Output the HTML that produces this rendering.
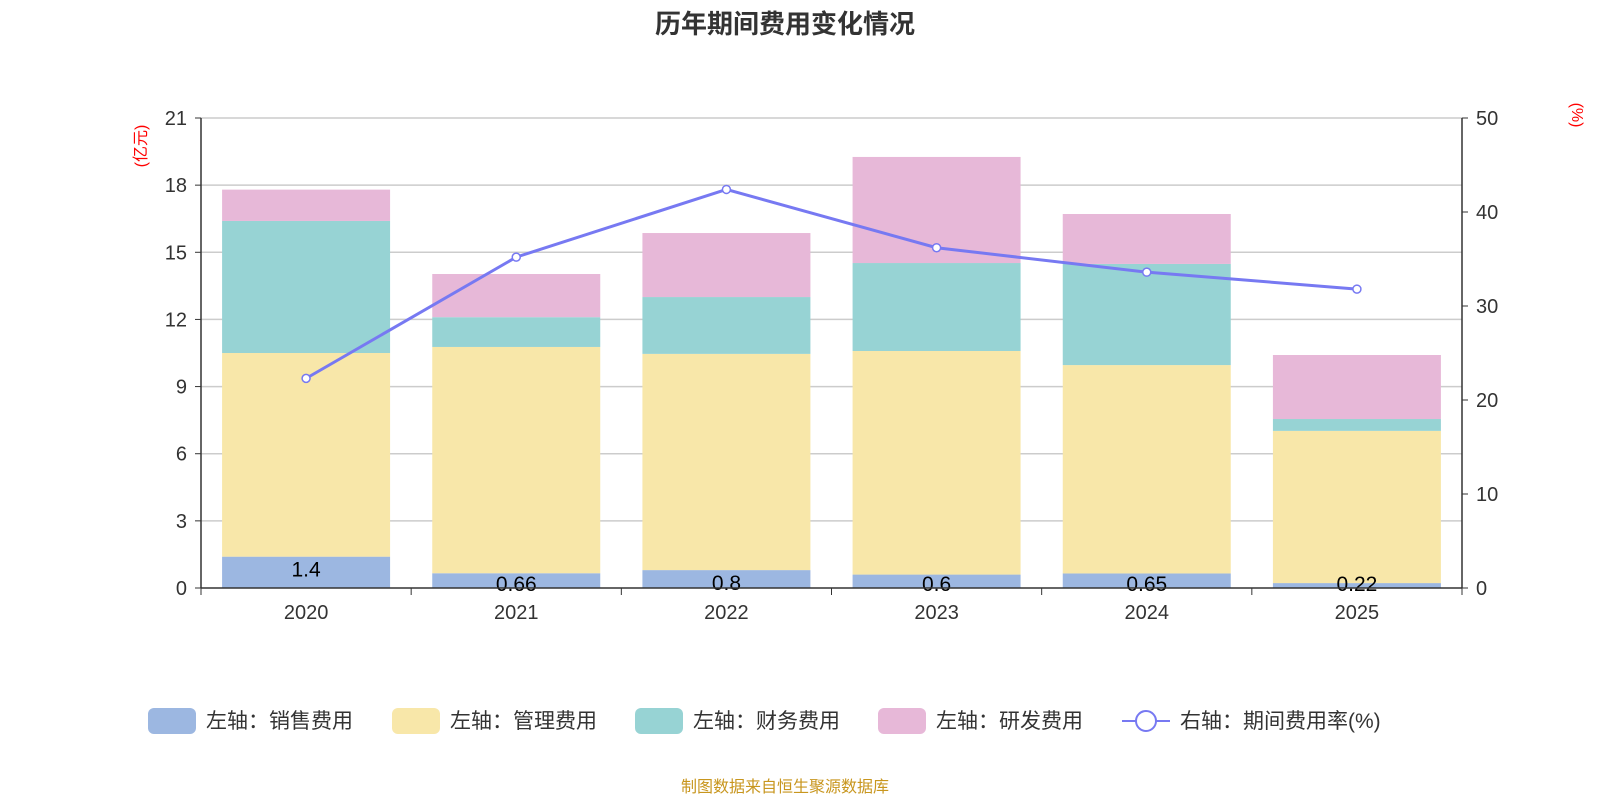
<!DOCTYPE html>
<html><head><meta charset="utf-8"><style>
body{margin:0;background:#fff;}
svg{display:block;font-family:"Liberation Sans","Noto Sans CJK SC",sans-serif;}
</style></head><body>
<svg id="c" width="1600" height="800" xmlns="http://www.w3.org/2000/svg">
<text x="785" y="33" text-anchor="middle" font-size="26" font-weight="bold" fill="#333">历年期间费用变化情况</text>
<text transform="translate(146,146) rotate(-90)" text-anchor="middle" font-size="16" fill="#f00">(亿元)</text>
<text transform="translate(1572,115) rotate(90)" text-anchor="middle" font-size="16" fill="#f00">(%)</text>
<g id="grid"></g><g id="bars"></g><g id="axes"></g><g id="line"></g>
<g id="legend" font-size="21" fill="#333"></g>
<text x="785" y="792" text-anchor="middle" font-size="16" fill="#c8961e">制图数据来自恒生聚源数据库</text>
</svg>
<script>
const categories=["2020","2021","2022","2023","2024","2025"];
const sales=[1.4,0.66,0.8,0.6,0.65,0.22];
const mgmt=[9.1,10.11,9.66,9.99,9.31,6.8];
const fin=[5.9,1.33,2.54,3.93,4.52,0.53];
const rd=[1.4,1.93,2.86,4.74,2.23,2.86];
const rate=[22.3,35.2,42.4,36.2,33.6,31.8];
const leftTicks=[0,3,6,9,12,15,18,21];
const rightTicks=[0,10,20,30,40,50];
const NS="http://www.w3.org/2000/svg";
const X0=201,X1=1462,Y0=588,Y1=118;
const yL=v=>Y0-(v/21)*(Y0-Y1);
const yR=v=>Y0-(v/50)*(Y0-Y1);
const bw=(X1-X0)/categories.length;
const xc=i=>X0+bw*(i+0.5);
function mk(p,t,a){const e=document.createElementNS(NS,t);for(const k in a)e.setAttribute(k,a[k]);document.getElementById(p).appendChild(e);return e;}
leftTicks.forEach(v=>{
 if(v>0){const g=mk('grid','line',{x1:X0,x2:X1,y1:yL(v),y2:yL(v),stroke:'#ccc','stroke-width':1.5});
 
 }
 const t=mk('axes','text',{x:X0-14,y:yL(v)+7,'text-anchor':'end','font-size':20,fill:'#333'});t.textContent=v;
 
 
 mk('axes','line',{x1:X0-6,x2:X0,y1:yL(v),y2:yL(v),stroke:'#333'});
});
rightTicks.forEach(v=>{
 const t=mk('axes','text',{x:X1+14,y:yR(v)+7,'font-size':20,fill:'#333'});t.textContent=v;
 
 
 mk('axes','line',{x1:X1,x2:X1+6,y1:yR(v),y2:yR(v),stroke:'#333'});
});
mk('axes','line',{x1:X0,x2:X0,y1:Y1,y2:Y0,stroke:'#333','stroke-width':1.5});
mk('axes','line',{x1:X1,x2:X1,y1:Y1,y2:Y0,stroke:'#333','stroke-width':1.5});
mk('axes','line',{x1:X0,x2:X1,y1:Y0,y2:Y0,stroke:'#333','stroke-width':1.5});
for(let i=0;i<=categories.length;i++)mk('axes','line',{x1:X0+bw*i,x2:X0+bw*i,y1:Y0,y2:Y0+7,stroke:'#333'});
const series=[[sales,'#9cb7e1','sales'],[mgmt,'#f8e7a9','mgmt'],[fin,'#97d3d4','finance'],[rd,'#e7b8d8','rd']];
categories.forEach((c,i)=>{
 let base=0;
 series.forEach(([arr,col,nm])=>{
  const r=mk('bars','rect',{x:xc(i)-84,width:168,y:yL(base+arr[i]),height:yL(base)-yL(base+arr[i]),fill:col});
  
  
  base+=arr[i];
 });
 const l=mk('bars','text',{x:xc(i),y:Math.min(yL(sales[i])+20,Y0+3),'text-anchor':'middle','font-size':21,fill:'#000'});l.textContent=sales[i];
 
 
 const t=mk('axes','text',{x:xc(i),y:Y0+31,'text-anchor':'middle','font-size':20,fill:'#333'});t.textContent=c;
 
 
});
const pl=mk('line','polyline',{points:rate.map((v,i)=>xc(i)+','+yR(v)).join(' '),fill:'none',stroke:'#7779f2','stroke-width':3});


rate.forEach((v,i)=>{const p=mk('line','circle',{cx:xc(i),cy:yR(v),r:4,fill:'#fff',stroke:'#7779f2','stroke-width':1.5});
 
 });
const leg=[['左轴：销售费用','#9cb7e1',148],['左轴：管理费用','#f8e7a9',392],['左轴：财务费用','#97d3d4',635],['左轴：研发费用','#e7b8d8',878]];
leg.forEach(([n,col,x])=>{
 const r=mk('legend','rect',{x:x,y:708,width:48,height:26,rx:6,fill:col});
 
 
 const t=mk('legend','text',{x:x+58,y:728});t.textContent=n;
 
 
});
mk('legend','line',{x1:1122,x2:1170,y1:721,y2:721,stroke:'#7779f2','stroke-width':2});
mk('legend','circle',{cx:1146,cy:721,r:10,fill:'#fff',stroke:'#7779f2','stroke-width':2});
const lt=mk('legend','text',{x:1180,y:728});lt.textContent='右轴：期间费用率(%)';


</script>
</body></html>
